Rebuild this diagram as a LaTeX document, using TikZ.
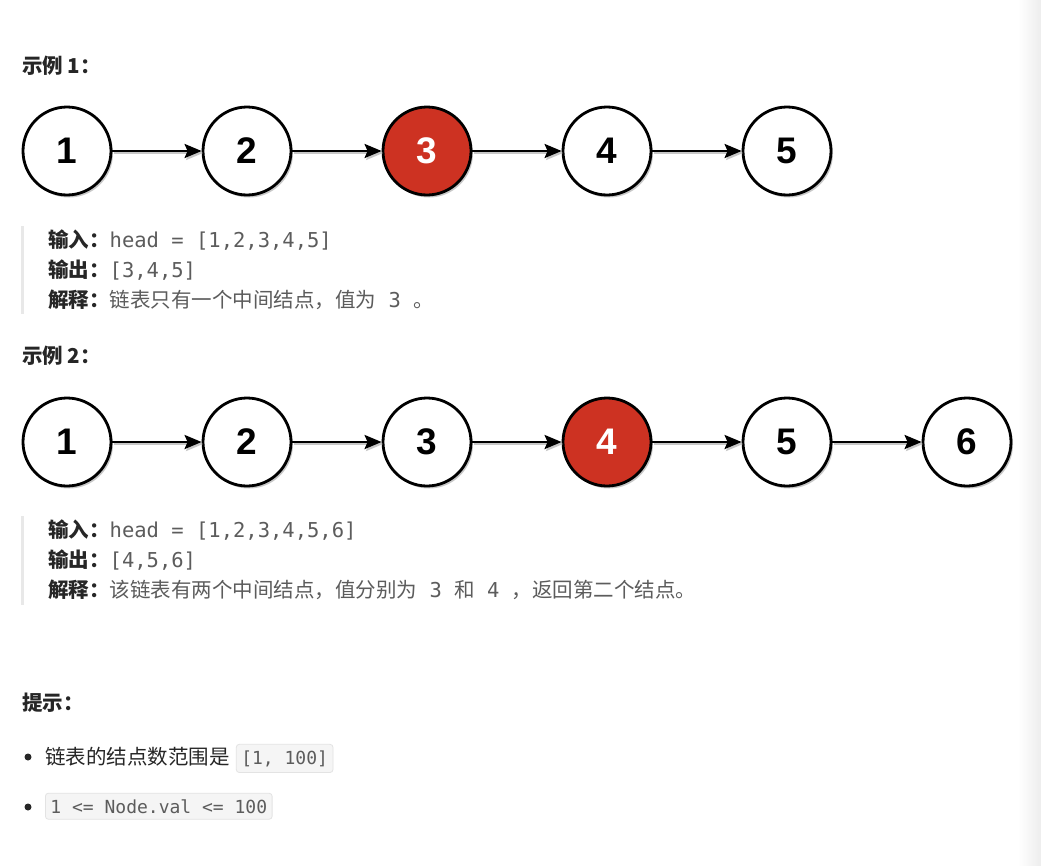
\documentclass[tikz,border=0pt]{standalone}
\usepackage{fontspec}
\setmainfont{Liberation Sans}
\newfontfamily\cjkfont{Noto Sans CJK SC}
\newfontfamily\codefont{DejaVu Sans Mono}
\usetikzlibrary{arrows.meta,positioning,shadows}
\definecolor{lcred}{HTML}{CD3222}
\definecolor{lctext}{HTML}{262626}
\definecolor{lcgray}{HTML}{5C5C5C}
\definecolor{lcbar}{HTML}{E8E8E8}
\definecolor{lccodebg}{HTML}{F5F5F5}
\definecolor{lccodeline}{HTML}{E3E3E3}
\tikzset{
  lnode/.style={circle,draw=black,line width=2.8bp,fill=white,minimum size=88bp,inner sep=0pt,
    font=\fontsize{37bp}{37bp}\selectfont\bfseries,
    drop shadow={shadow xshift=2bp,shadow yshift=-2.5bp,opacity=.3,fill=black!70}},
  lmid/.style={lnode,fill=lcred,text=white},
  link/.style={-{Stealth[length=17bp,width=14bp,inset=3bp]},line width=2.6bp,
    preaction={draw=black!22,line width=2.6bp,transform canvas={shift={(1.5bp,-2bp)}}}},
  txt/.style={anchor=base west,inner sep=0pt,text=lctext,
    font=\cjkfont\fontsize{20.5bp}{24bp}\selectfont},
  head/.style={txt,font=\cjkfont\fontsize{20.5bp}{24bp}\selectfont\bfseries},
  codebox/.style={anchor=base west,fill=lccodebg,draw=lccodeline,line width=.8bp,rounded corners=3bp,
    inner xsep=5bp,inner ysep=6bp,text=lcgray,font=\codefont\fontsize{18bp}{20bp}\selectfont},
  bulletdot/.style={circle,fill=lctext,inner sep=0pt,minimum size=7bp}
}
\newcommand{\inp}{\textbf{输入：}}
\newcommand{\outp}{\textbf{输出：}}
\newcommand{\expl}{\textbf{解释：}}
\newcommand{\cde}[1]{{\codefont\color{lcgray}#1}}
\begin{document}
\begin{tikzpicture}[x=1bp,y=-1bp]
  \useasboundingbox (0,0) rectangle (1041,866);
  \fill[white] (0,0) rectangle (1041,866);
  \shade[left color=white,right color=black!7] (1018,0) rectangle (1041,866);

  % example 1
  \node[head] (ex1) at (22,73) {示例 1：};
  \foreach \v/\s in {1/lnode,2/lnode,3/lmid,4/lnode,5/lnode}
    \node[\s] (a\v) at ({67+180*(\v-1)},151) {\v};
  \foreach \i/\j in {1/2,2/3,3/4,4/5}
    \draw[link] (a\i) -- (a\j);

  \fill[lcbar] (21,226) rectangle (24,314);
  \node[txt] (in1) at (48,247) {\inp\cde{head = [1,2,3,4,5]}};
  \node[txt] (out1) at (48,277) {\outp\cde{[3,4,5]}};
  \node[txt] (ex1why) at (48,307) {\expl{\color{lcgray}链表只有一个中间结点，值为\cde{\ 3\ }。}};

  % example 2
  \node[head] (ex2) at (22,363) {示例 2：};
  \foreach \v/\s in {1/lnode,2/lnode,3/lnode,4/lmid,5/lnode,6/lnode}
    \node[\s] (b\v) at ({67+180*(\v-1)},442) {\v};
  \foreach \i/\j in {1/2,2/3,3/4,4/5,5/6}
    \draw[link] (b\i) -- (b\j);

  \fill[lcbar] (21,516) rectangle (24,605);
  \node[txt] (in2) at (48,537) {\inp\cde{head = [1,2,3,4,5,6]}};
  \node[txt] (out2) at (48,567) {\outp\cde{[4,5,6]}};
  \node[txt] (ex2why) at (48,597) {\expl{\color{lcgray}该链表有两个中间结点，值分别为\cde{\ 3\ }和\cde{\ 4\ }，返回第二个结点。}};

  % hints
  \node[head] (hint) at (22,710) {提示：};
  \node[bulletdot] (dot1) at (28,757) {};
  \node[txt] (hint1) at (45,764) {链表的结点数范围是};
  \node[codebox] (range) at ([xshift=6bp]hint1.base east) {[1, 100]};
  \node[bulletdot] (dot2) at (28,807) {};
  \node[codebox] (val) at (45,813) {1 <= Node.val <= 100};
\end{tikzpicture}
\end{document}
